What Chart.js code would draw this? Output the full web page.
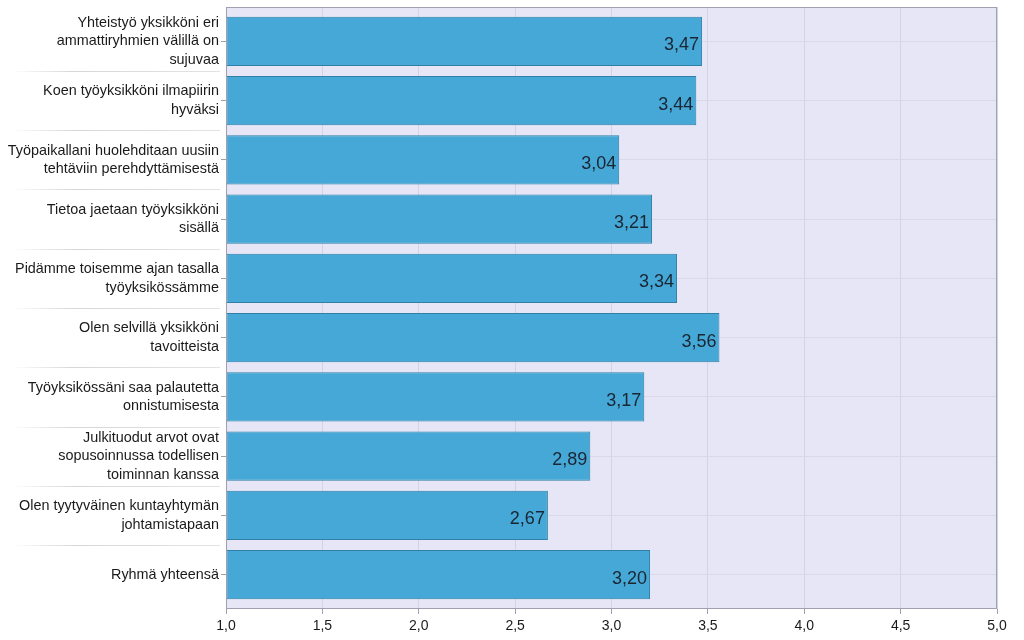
<!DOCTYPE html>
<html>
<head>
<meta charset="utf-8">
<script src="https://cdn.jsdelivr.net/npm/chart.js@4/dist/chart.umd.min.js"></script>
<style>
  html, body { margin: 0; padding: 0; background: #fff; }
  #wrap { width: 1024px; height: 640px; }
</style>
</head>
<body>
<div id="wrap"><canvas id="c" width="1024" height="640"></canvas></div>
<script>
// Data
const categories = [
    ['Yhteistyö yksikköni eri', 'ammattiryhmien välillä on', 'sujuvaa'],
    ['Koen työyksikköni ilmapiirin', 'hyväksi'],
    ['Työpaikallani huolehditaan uusiin', 'tehtäviin perehdyttämisestä'],
    ['Tietoa jaetaan työyksikköni', 'sisällä'],
    ['Pidämme toisemme ajan tasalla', 'työyksikössämme'],
    ['Olen selvillä yksikköni', 'tavoitteista'],
    ['Työyksikössäni saa palautetta', 'onnistumisesta'],
    ['Julkituodut arvot ovat', 'sopusoinnussa todellisen', 'toiminnan kanssa'],
    ['Olen tyytyväinen kuntayhtymän', 'johtamistapaan'],
    ['Ryhmä yhteensä'],
];
const values = [3.47, 3.44, 3.04, 3.21, 3.34, 3.56, 3.17, 2.89, 2.67, 3.20];
const tickValues = [1.0, 1.5, 2.0, 2.5, 3.0, 3.5, 4.0, 4.5, 5.0];

const fmt = v => v.toFixed(2).replace('.', ',');
const fmtTick = v => v.toFixed(1).replace('.', ',');

Chart.defaults.font.family = "'Liberation Sans', Arial, sans-serif";
Chart.defaults.color = '#1a1a1a';

// extra space above the first and below the last category (in category units)
const catPad = 0.08;

// plot background + frame + left separators + value labels
const plotDecor = {
    id: 'plotDecor',
    beforeDraw(chart) {
        const { ctx, chartArea: a } = chart;
        const y = chart.scales.y;
        ctx.save();
        ctx.fillStyle = '#E6E6F7';
        ctx.fillRect(a.left, a.top, a.right - a.left, a.bottom - a.top);
        // separators between category labels
        for (let i = 0; i < categories.length - 1; i++) {
            const yy = Math.round(y.getPixelForValue(i + 0.5)) + 0.5;
            const g = ctx.createLinearGradient(10, 0, a.left - 4, 0);
            g.addColorStop(0, 'rgba(205,205,205,0)');
            g.addColorStop(0.3, 'rgba(205,205,205,0.8)');
            g.addColorStop(1, 'rgba(220,220,220,0.8)');
            ctx.strokeStyle = g;
            ctx.lineWidth = 1;
            ctx.beginPath();
            ctx.moveTo(10, yy);
            ctx.lineTo(a.left - 6, yy);
            ctx.stroke();
        }
        ctx.restore();
    },
    afterDatasetsDraw(chart) {
        const { ctx, chartArea: a } = chart;
        ctx.save();
        ctx.strokeStyle = '#a0a0b0';
        ctx.lineWidth = 1;
        ctx.strokeRect(a.left + 0.5, a.top + 0.5, a.right - a.left - 1, a.bottom - a.top - 1);
        const meta = chart.getDatasetMeta(0);
        ctx.fillStyle = '#1b2633';
        ctx.font = "18px 'Liberation Sans', Arial, sans-serif";
        ctx.textAlign = 'right';
        ctx.textBaseline = 'middle';
        meta.data.forEach((bar, i) => {
            ctx.fillText(fmt(values[i]), bar.x - 3, bar.y + 4);
        });
        ctx.restore();
    }
};

new Chart(document.getElementById('c'), {
    type: 'bar',
    data: {
        labels: categories,
        datasets: [{
            data: values,
            base: 1,
            backgroundColor: '#46A8D6',
            borderColor: '#2F7FA6',
            borderWidth: 1,
            borderSkipped: false,
            barPercentage: 0.83,
            categoryPercentage: 1.0,
        }]
    },
    options: {
        indexAxis: 'y',
        responsive: false,
        animation: false,
        layout: { padding: { top: 7, right: 27, left: 0, bottom: 0 } },
        plugins: {
            legend: { display: false },
            tooltip: { enabled: false }
        },
        scales: {
            x: {
                min: 1,
                max: 5,
                afterBuildTicks: (s) => { s.ticks = tickValues.map(v => ({ value: v })); },
                afterFit: (s) => { s.height = 31; s.paddingLeft = 0; s.paddingRight = 0; },
                grid: { color: '#D3D3E6', tickLength: 5, tickColor: '#a0a0b0' },
                border: { display: false },
                ticks: {
                    callback: (v) => fmtTick(v),
                    font: { size: 14 },
                    color: '#1a1a1a',
                    padding: 4,
                    maxRotation: 0
                }
            },
            y: {
                afterBuildTicks: (s) => {
                    // widen the category range a little at both ends
                    s._startValue = -0.5 - catPad;
                    s._valueRange = categories.length + 2 * catPad;
                },
                afterFit: (s) => { s.width = 226; s.paddingTop = 0; s.paddingBottom = 0; },
                grid: { color: '#D9D9EA', offset: false, tickLength: 5, tickColor: '#a0a0b0' },
                border: { display: false },
                ticks: {
                    font: { size: 14.4, lineHeight: 1.28 },
                    color: '#1a1a1a',
                    padding: 2,
                    crossAlign: 'near'
                }
            }
        }
    },
    plugins: [plotDecor]
});
</script>
</body>
</html>
